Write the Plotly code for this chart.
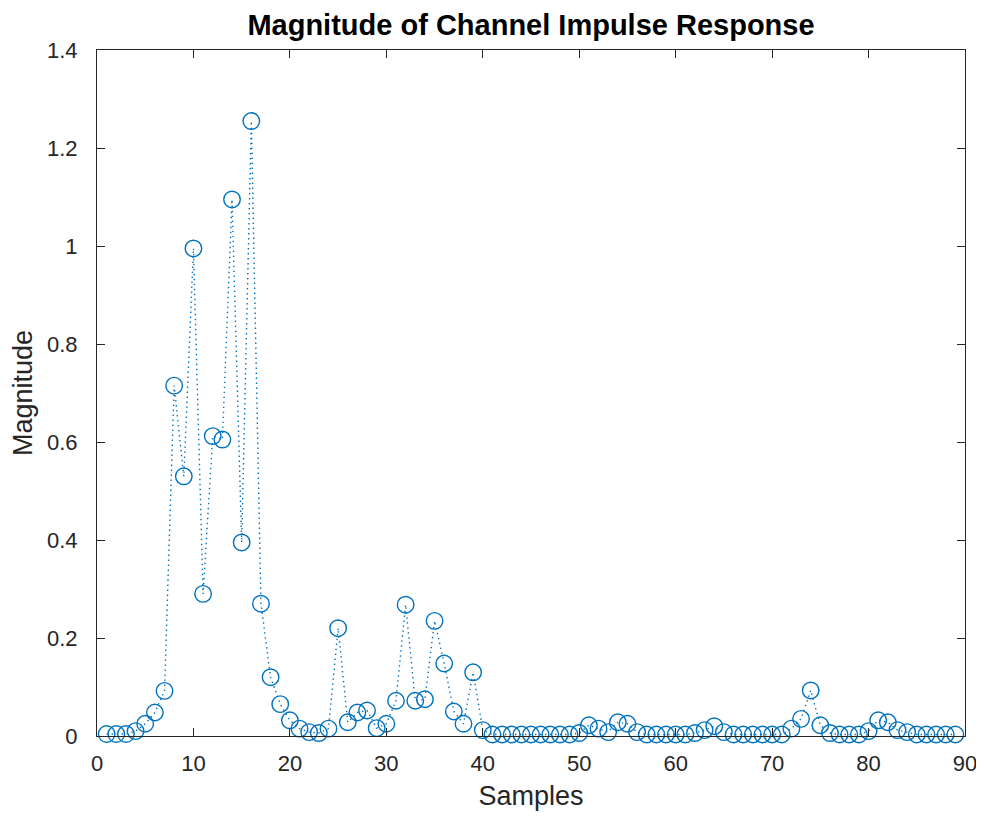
import plotly.graph_objects as go

samples = list(range(1, 90))
magnitude = [
    0.004, 0.004, 0.004, 0.01, 0.025, 0.048, 0.092, 0.715, 0.53, 0.995,
    0.29, 0.612, 0.605, 1.095, 0.395, 1.255, 0.27, 0.12, 0.065, 0.032,
    0.015, 0.008, 0.006, 0.015, 0.22, 0.028, 0.048, 0.052, 0.016, 0.025,
    0.072, 0.268, 0.072, 0.075, 0.235, 0.148, 0.05, 0.025, 0.13, 0.012,
    0.003, 0.003, 0.003, 0.003, 0.003, 0.003, 0.003, 0.003, 0.003, 0.006,
    0.022, 0.015, 0.008, 0.028, 0.025, 0.008, 0.003, 0.003, 0.003, 0.003,
    0.003, 0.006, 0.012, 0.02, 0.008, 0.003, 0.003, 0.003, 0.003, 0.003,
    0.003, 0.015, 0.035, 0.093, 0.022, 0.006, 0.003, 0.003, 0.003, 0.01,
    0.032, 0.028, 0.012, 0.008, 0.003, 0.003, 0.003, 0.003, 0.003,
]
x_ticks = [0, 10, 20, 30, 40, 50, 60, 70, 80, 90]
y_ticks = [0, 0.2, 0.4, 0.6, 0.8, 1, 1.2, 1.4]
y_tick_text = ["0", "0.2", "0.4", "0.6", "0.8", "1", "1.2", "1.4"]

blue = "#0072BD"
axc = "#262626"
font = "Liberation Sans, Arial, sans-serif"

fig = go.Figure()
fig.add_trace(go.Scatter(
    x=samples, y=magnitude, mode="lines+markers",
    line=dict(color=blue, width=1.4, dash="1.4px,3.6px"),
    marker=dict(symbol="circle-open", size=16.5, color=blue, line=dict(width=1.4, color=blue)),
    cliponaxis=False, showlegend=False,
))

axis_common = dict(
    showline=True, linecolor=axc, linewidth=1, mirror="allticks",
    ticks="inside", ticklen=8, tickcolor=axc, tickwidth=1,
    showgrid=False, zeroline=False, automargin=False,
    tickfont=dict(family=font, size=22, color=axc),
)

# page body has an 8px margin, so the figure is offset by 8px
W, H = 976, 810
fig.update_layout(
    width=W, height=H,
    margin=dict(l=89, r=19, t=42, b=82),
    paper_bgcolor="white", plot_bgcolor="white",
    title=dict(text="<b>Magnitude of Channel Impulse Response</b>",
               x=0.5, xref="paper", xanchor="center",
               y=1 - 17 / H, yref="container", yanchor="middle", automargin=False,
               font=dict(family=font, size=29, color="#000000")),
    xaxis=dict(range=[0, 90], tickvals=x_ticks, ticklabelstandoff=8,
               title=dict(text="Samples", font=dict(family=font, size=27, color=axc), standoff=10),
               **axis_common),
    yaxis=dict(range=[0, 1.4], tickvals=y_ticks, ticktext=y_tick_text, ticklabelstandoff=14,
               title=dict(text="Magnitude", font=dict(family=font, size=27, color=axc), standoff=8),
               **axis_common),
)

fig.write_html("out.html")
